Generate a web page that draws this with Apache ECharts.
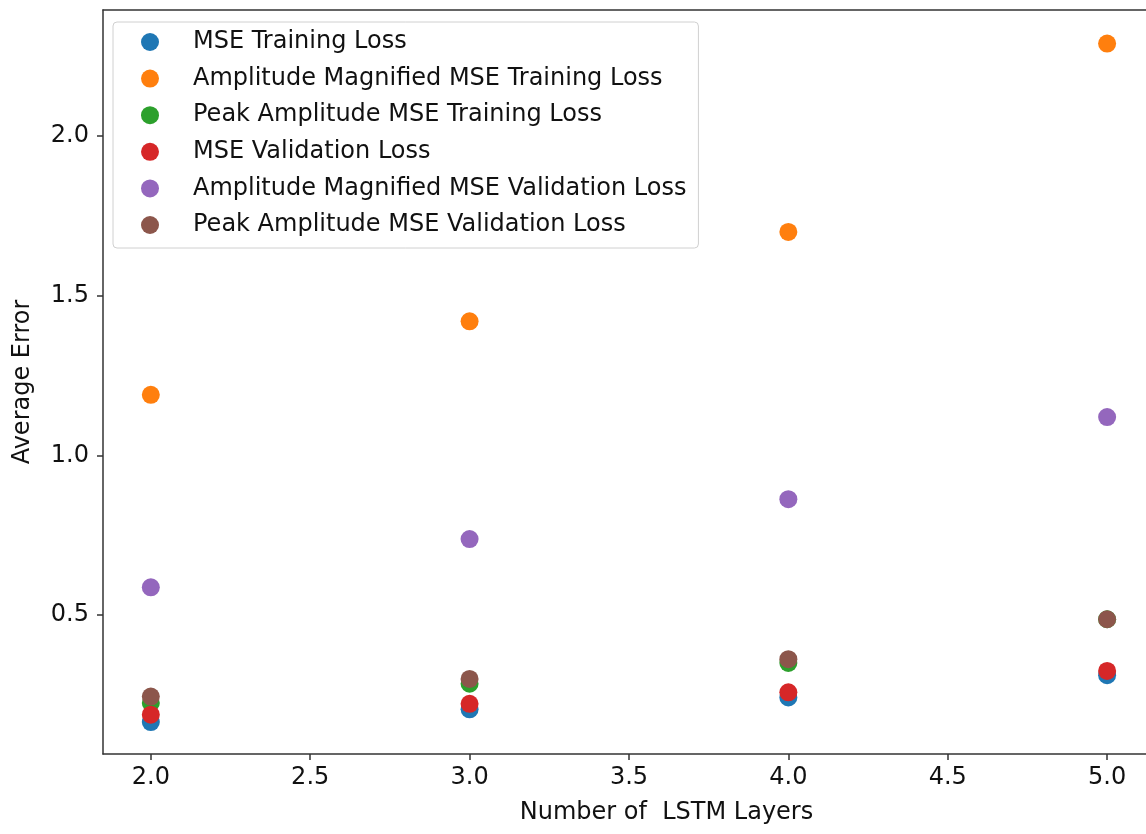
<!DOCTYPE html>
<html>
<head>
<meta charset="utf-8">
<script src="https://cdn.jsdelivr.net/npm/echarts@6/dist/echarts.min.js"></script>
<style>
  html, body { margin: 0; padding: 0; background: #fff; }
  #main { width: 1146px; height: 834px; }
</style>
</head>
<body>
<div id="main"></div>
<script>
// number of LSTM layers
var layers = [2, 3, 4, 5];

var seriesNames = [
    'MSE Training Loss',
    'Amplitude Magnified MSE Training Loss',
    'Peak Amplitude MSE Training Loss',
    'MSE Validation Loss',
    'Amplitude Magnified MSE Validation Loss',
    'Peak Amplitude MSE Validation Loss'
];
var colors = ['#1f77b4', '#ff7f0e', '#2ca02c', '#d62728', '#9467bd', '#8c564b'];

// average error
var mseTrain      = [0.165, 0.205, 0.242, 0.312];
var ampMagTrain   = [1.19, 1.42, 1.70, 2.29];
var peakAmpTrain  = [0.225, 0.285, 0.350, 0.487];
var mseVal        = [0.188, 0.222, 0.258, 0.325];
var ampMagVal     = [0.587, 0.738, 0.863, 1.12];
var peakAmpVal    = [0.245, 0.300, 0.362, 0.487];

var xTicks = [2.0, 2.5, 3.0, 3.5, 4.0, 4.5, 5.0];
var yTicks = [0.5, 1.0, 1.5, 2.0];

var allValues = [mseTrain, ampMagTrain, peakAmpTrain, mseVal, ampMagVal, peakAmpVal];

var font = 'DejaVu Sans';
var xMin = 1.85, xMax = 5.122;   // the picture is cut off on the right

var mychart = echarts.init(document.getElementById('main'));

var series = [];
for (var i = 0; i < seriesNames.length; i++) {
    var pts = [];
    for (var j = 0; j < layers.length; j++) {
        pts.push([layers[j], allValues[i][j]]);
    }
    series.push({
        name: seriesNames[i],
        type: 'scatter',
        symbol: 'circle',
        symbolSize: 18,
        itemStyle: { color: colors[i], opacity: 1 },
        data: pts
    });
}

var option = {
    animation: false,
    backgroundColor: '#fff',
    grid: {
        left: 103,
        top: 10,
        right: 0,
        bottom: 80
    },
    legend: {
        orient: 'vertical',
        left: 113,
        top: 22,
        padding: [8, 12, 11, 28],
        itemGap: 12.6,
        itemWidth: 18,
        itemHeight: 18,
        icon: 'circle',
        backgroundColor: '#fff',
        borderColor: '#d0d0d0',
        borderWidth: 1,
        borderRadius: 4,
        textStyle: {
            fontFamily: font,
            fontSize: 24,
            color: '#111',
            padding: [0, 0, 0, 29]
        },
        data: seriesNames
    },
    xAxis: [{
        type: 'value',
        min: xMin,
        max: xMax,
        name: 'Number of  LSTM Layers',
        nameLocation: 'middle',
        nameGap: 47,
        nameTextStyle: {
            fontFamily: font,
            fontSize: 24,
            color: '#111',
            padding: [0, 0, 0, 84]
        },
        splitLine: { show: false },
        axisLine: { show: true, lineStyle: { color: '#333', width: 1.5 } },
        axisTick: {
            show: true,
            length: 6,
            lineStyle: { color: '#333', width: 1.5 },
            customValues: xTicks
        },
        axisLabel: {
            fontFamily: font,
            fontSize: 24,
            color: '#111',
            margin: 12,
            customValues: xTicks,
            formatter: function (v) { return v.toFixed(1); }
        }
    }, {
        // top frame line only
        type: 'value',
        position: 'top',
        min: xMin,
        max: xMax,
        splitLine: { show: false },
        axisLine: { show: true, lineStyle: { color: '#333', width: 1.5 } },
        axisTick: { show: false },
        axisLabel: { show: false }
    }],
    yAxis: {
        type: 'value',
        min: 0.065,
        max: 2.395,
        name: 'Average Error',
        nameLocation: 'middle',
        nameGap: 68,
        nameRotate: 90,
        nameTextStyle: {
            fontFamily: font,
            fontSize: 24,
            color: '#111'
        },
        splitLine: { show: false },
        axisLine: { show: true, lineStyle: { color: '#333', width: 1.5 } },
        axisTick: {
            show: true,
            length: 6,
            lineStyle: { color: '#333', width: 1.5 },
            customValues: yTicks
        },
        axisLabel: {
            fontFamily: font,
            fontSize: 24,
            color: '#111',
            margin: 14,
            customValues: yTicks,
            formatter: function (v) { return v.toFixed(1); }
        }
    },
    series: series
};

mychart.setOption(option);
</script>
</body>
</html>
